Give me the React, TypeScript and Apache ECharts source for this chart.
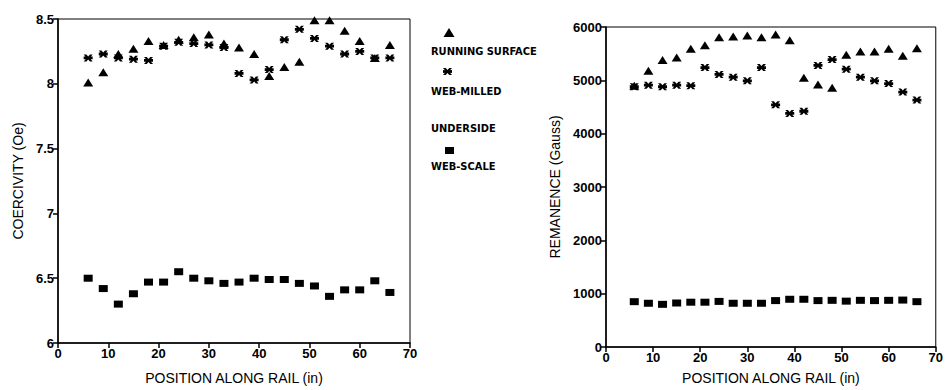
import React, { useEffect, useRef } from "react";
import * as echarts from "echarts";

// Positions along rail (in)
const positions = [6, 9, 12, 15, 18, 21, 24, 27, 30, 33, 36, 39, 42, 45, 48, 51, 54, 57, 60, 63, 66];

// Coercivity (Oe)
const coerRunning = [8.01, 8.09, 8.23, 8.27, 8.33, 8.3, 8.34, 8.36, 8.38, 8.31, 8.28, 8.23, 8.06, 8.13, 8.17, 8.49, 8.49, 8.41, 8.33, 8.2, 8.3];
const coerWebMilled = [8.2, 8.23, 8.2, 8.19, 8.18, 8.29, 8.32, 8.31, 8.3, 8.28, 8.08, 8.03, 8.11, 8.34, 8.42, 8.35, 8.29, 8.23, 8.25, 8.2, 8.2];
const coerWebScale = [6.5, 6.42, 6.3, 6.38, 6.47, 6.47, 6.55, 6.5, 6.48, 6.46, 6.47, 6.5, 6.49, 6.49, 6.46, 6.44, 6.36, 6.41, 6.41, 6.48, 6.39];

// Remanence (Gauss)
const remRunning = [4900, 5180, 5380, 5430, 5590, 5660, 5810, 5820, 5840, 5810, 5860, 5750, 5050, 4920, 4860, 5480, 5540, 5540, 5590, 5460, 5600];
const remWebMilled = [4880, 4910, 4880, 4910, 4900, 5240, 5110, 5060, 4990, 5240, 4540, 4380, 4420, 5280, 5390, 5210, 5060, 4990, 4940, 4780, 4630];
const remWebScale = [850, 820, 800, 825, 840, 840, 855, 820, 820, 820, 870, 895, 895, 870, 875, 860, 875, 870, 875, 880, 850];

const coerTicks = { min: 6, max: 8.5, interval: 0.5 };
const remTicks = { min: 0, max: 6000, interval: 1000 };
const xTicks = { min: 0, max: 70, interval: 10 };

const legendLabels = ["RUNNING SURFACE", "WEB-MILLED", "UNDERSIDE", "WEB-SCALE"];

const ASTERISK =
  "path://M0,3L10,3L10,7L0,7Z M0,0L3,0L10,10L7,10Z M7,0L10,0L3,10L0,10Z";

const pair = (ys: number[]) => positions.map((x, i) => [x, ys[i]]);

export default function App() {
  const ref = useRef<HTMLDivElement>(null);
  useEffect(() => {
    if (!ref.current) return;
    const chart = echarts.init(ref.current, null, { renderer: "svg" });
    const black = "#000";
    const labelFont = { color: black, fontFamily: "Liberation Sans", fontWeight: "bold" as const, fontSize: 13 };
    const nameFont = { color: black, fontFamily: "Liberation Sans", fontSize: 14 };
    const plain = (v: number) => String(v);
    const xAxisBase = (gridIndex: number, gap: number) => ({
      type: "value" as const,
      gridIndex,
      ...xTicks,
      name: "POSITION ALONG RAIL (in)",
      nameLocation: "middle" as const,
      nameGap: gap,
      nameTextStyle: nameFont,
      axisLine: { show: true, lineStyle: { color: black, width: 1.5 } },
      axisTick: { show: true, length: 5, lineStyle: { color: black, width: 1.5 } },
      axisLabel: { ...labelFont, margin: 4, formatter: plain },
      splitLine: { show: false },
    });
    const scatter = (name: string, xi: number, data: number[][], symbol: string, size: any) => ({
      type: "scatter" as const,
      name,
      xAxisIndex: xi,
      yAxisIndex: xi,
      data,
      symbol,
      symbolSize: size,
      itemStyle: { color: black, opacity: 1 },
    });
    const tri = (x: number, y: number) => ({
      type: "polygon",
      shape: { points: [[x, y - 5], [x + 5.5, y + 4], [x - 5.5, y + 4]] },
      style: { fill: black },
    });
    const legendText = (y: number, text: string) => ({
      type: "text",
      x: 431,
      y,
      style: {
        text,
        fill: black,
        font: "bold 11px 'DejaVu Sans Condensed'",
        textVerticalAlign: "middle",
      },
    });
    chart.setOption({
      animation: false,
      backgroundColor: "#fff",
      grid: [
        { left: 58, right: 536, top: 19, bottom: 47, show: true, borderColor: black, borderWidth: 1 },
        { left: 606, right: 8, top: 27, bottom: 40, show: true, borderColor: black, borderWidth: 1 },
      ],
      xAxis: [xAxisBase(0, 28), xAxisBase(1, 24)],
      yAxis: [
        {
          type: "value",
          gridIndex: 0,
          ...coerTicks,
          name: "COERCIVITY (Oe)",
          nameLocation: "middle",
          nameGap: 33,
          nameTextStyle: nameFont,
          axisLine: { show: true, lineStyle: { color: black, width: 1.5 } },
          axisTick: { show: true, length: 5, lineStyle: { color: black, width: 1.5 } },
          axisLabel: { ...labelFont, margin: 4, formatter: plain },
          splitLine: { show: false },
        },
        {
          type: "value",
          gridIndex: 1,
          ...remTicks,
          name: "REMANENCE (Gauss)",
          nameLocation: "middle",
          nameGap: 44,
          nameTextStyle: nameFont,
          axisLine: { show: true, lineStyle: { color: black, width: 1.5 } },
          axisTick: { show: true, length: 5, lineStyle: { color: black, width: 1.5 } },
          axisLabel: { ...labelFont, margin: 4, formatter: plain },
          splitLine: { show: false },
        },
      ],
      series: [
        scatter("RUNNING SURFACE", 0, pair(coerRunning), "triangle", [10, 8]),
        scatter("WEB-MILLED", 0, pair(coerWebMilled), ASTERISK, [9, 7]),
        scatter("WEB-SCALE", 0, pair(coerWebScale), "rect", [9, 7]),
        scatter("RUNNING SURFACE", 1, pair(remRunning), "triangle", [10, 8]),
        scatter("WEB-MILLED", 1, pair(remWebMilled), ASTERISK, [9, 7]),
        scatter("WEB-SCALE", 1, pair(remWebScale), "rect", [9, 7]),
      ],
      graphic: [
        tri(449, 33),
        legendText(51, legendLabels[0]),
        {
          type: "group",
          x: 443,
          y: 68,
          scaleX: 0.9,
          scaleY: 0.7,
          children: [
            { type: "polygon", shape: { points: [[0, 3], [10, 3], [10, 7], [0, 7]] }, style: { fill: black } },
            { type: "polygon", shape: { points: [[0, 0], [3, 0], [10, 10], [7, 10]] }, style: { fill: black } },
            { type: "polygon", shape: { points: [[7, 0], [10, 0], [3, 10], [0, 10]] }, style: { fill: black } },
          ],
        },
        legendText(91, legendLabels[1]),
        legendText(128, legendLabels[2]),
        { type: "rect", shape: { x: 445, y: 147, width: 9, height: 7 }, style: { fill: black } },
        legendText(166, legendLabels[3]),
      ],
    });
    return () => chart.dispose();
  }, []);
  return (
    <div
      ref={ref}
      style={{ position: "fixed", left: 0, top: 0, width: 946, height: 390, background: "#fff" }}
    />
  );
}
